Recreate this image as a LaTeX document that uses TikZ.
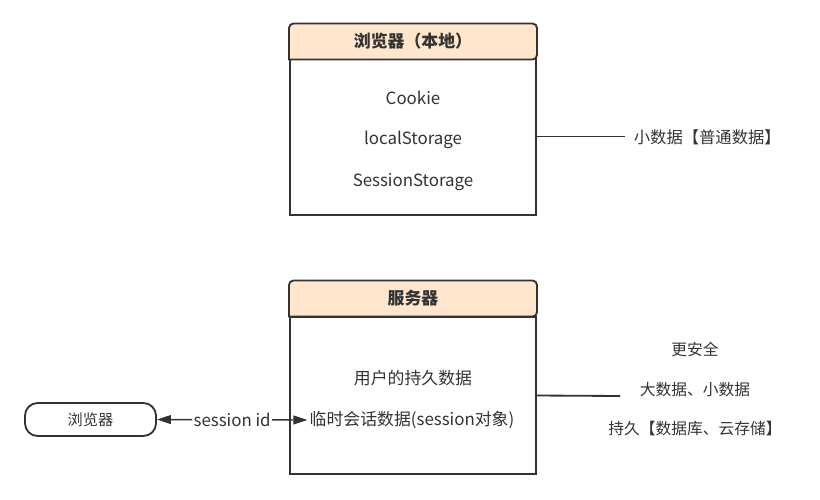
\documentclass[tikz,border=0pt]{standalone}
\usepackage{fontspec}
\setmainfont{Noto Sans CJK SC}
\usetikzlibrary{arrows.meta, positioning}
\definecolor{cline}{HTML}{333333}
\definecolor{chead}{HTML}{FFE6CC}
\definecolor{ctext}{HTML}{333333}
\tikzset{
  every picture/.style={font=\fontsize{12}{14}\selectfont, line width=1.3pt, text=ctext},
  head/.style={minimum width=6.15cm, minimum height=0.85cm, inner sep=0pt},
  title/.style={font=\fontsize{12}{14}\selectfont\bfseries},
  body/.style={draw=cline, fill=white, minimum width=6.15cm, inner sep=0pt},
  item/.style={inner sep=1pt},
  pill/.style={draw=cline, rounded corners=9pt, minimum width=3.275cm, minimum height=0.825cm, inner sep=0pt,
               font=\fontsize{10.8}{13}\selectfont},
  link/.style={draw=cline, line width=1.3pt},
  biarrow/.style={{Triangle[length=3.5mm, width=2.2mm]}-{Triangle[length=3.5mm, width=2.2mm]}, draw=cline, line width=1pt},
  note/.style={align=center, inner sep=0pt},
}
\begin{document}
\begin{tikzpicture}[x=0.025cm, y=-0.025cm]
  \useasboundingbox (0,0) rectangle (820,499);
  % browser (local)
  \node[head] (brwHead) at (413,41.5) {};
  \node[body, minimum height=3.925cm] (brwBody) at (413,136.5) {};
  \filldraw[draw=cline, fill=chead] (brwHead.south west) [rounded corners=3pt] |- (brwHead.north)
    -| (brwHead.south east) [sharp corners] -- cycle;
  \node[title] (brwTitle) at (brwHead) {浏览器（本地）};
  \node[item] (cookie) at (413,98) {Cookie};
  \node[item] (local) at (413,140) {localStorage};
  \node[item] (sess) at (413,182) {SessionStorage};
  \node[note, anchor=west, font=\fontsize{11.6}{14}\selectfont] (brwNote) at (633,137) {小数据【普通数据】};
  \draw[link, shorten >=0.2cm] (brwBody.east) -- (brwBody.east -| brwNote.west);
  % server
  \node[head] (srvHead) at (413,298.5) {};
  \node[body, minimum height=3.925cm] (srvBody) at (413,395.5) {};
  \filldraw[draw=cline, fill=chead] (srvHead.south west) [rounded corners=3pt] |- (srvHead.north)
    -| (srvHead.south east) [sharp corners] -- cycle;
  \node[title] (srvTitle) at (srvHead) {服务器};
  \node[item] (user) at (413,378) {用户的持久数据};
  \node[item] (tmp) at (412,420) {临时会话数据(session对象)};
  \node[note, font=\fontsize{11.2}{28}\selectfont] (srvNote) at (695,389) {更安全\\大数据、小数据\\持久【数据库、云存储】};
  \coordinate (srvEnd) at (620,396);
  \draw[link] (srvBody.east) -- (srvEnd);
  % client
  \node[pill] (client) at (90.5,419.5) {浏览器};
  \draw[biarrow] (client.east) -- node[fill=white, inner sep=1pt] {session id} (tmp.west);
\end{tikzpicture}
\end{document}
